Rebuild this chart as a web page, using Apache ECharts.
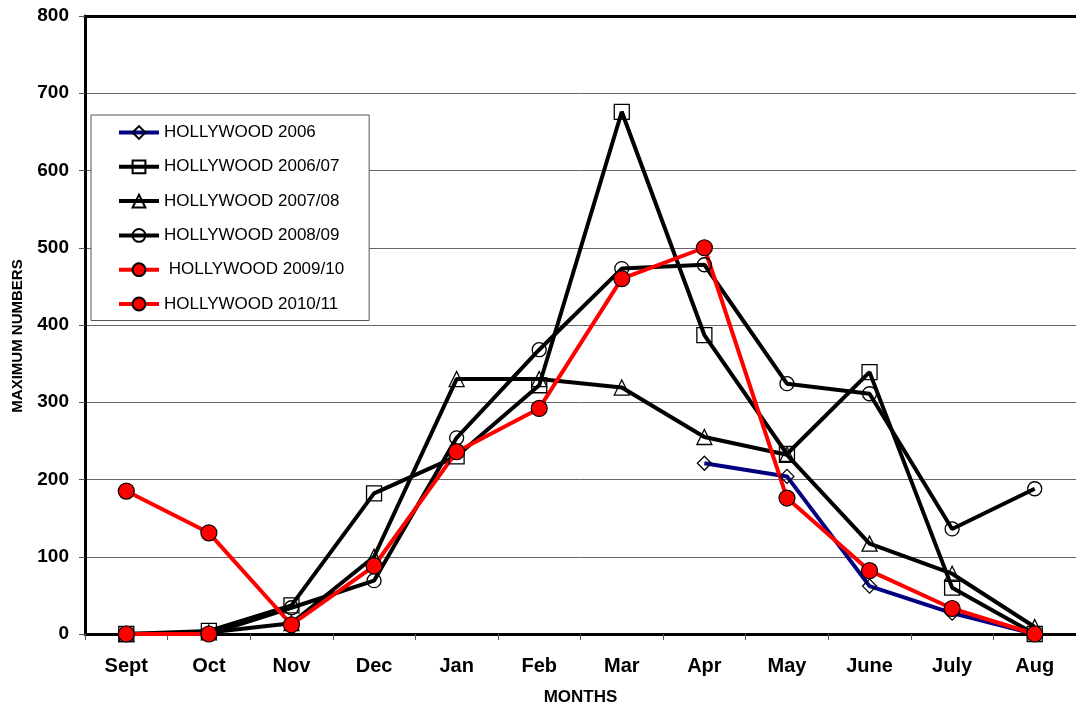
<!DOCTYPE html>
<html>
<head>
<meta charset="utf-8">
<title>Hollywood monthly maximum numbers</title>
<script src="https://cdn.jsdelivr.net/npm/echarts@6/dist/echarts.min.js"></script>
<style>
  html, body { margin: 0; padding: 0; background: #ffffff; }
  #chart { width: 1076px; height: 711px; }
</style>
</head>
<body>
<div id="chart"></div>
<script>
// Months of the season, September to August
const months = ['Sept', 'Oct', 'Nov', 'Dec', 'Jan', 'Feb', 'Mar', 'Apr', 'May', 'June', 'July', 'Aug'];

// Maximum numbers counted per month, one array per season
const hollywood2006   = [null, null, null, null, null, null, null, 221, 204, 62, 27, 0];
const hollywood200607 = [0, 4, 37, 182, 230, 322, 676, 387, 233, 339, 60, 0];
const hollywood200708 = [0, 2, 14, 100, 330, 330, 319, 255, 232, 117, 78, 9];
const hollywood200809 = [0, 0, 34, 69, 254, 368, 473, 478, 324, 311, 136, 188];
const hollywood200910 = [185, 131, 12, 88, 236, 292, 460, 500, 176, 82, 33, 0];
const hollywood201011 = [0, 0, null, null, null, null, null, null, null, null, null, null];

// Y axis range
const yMin = 0;
const yMax = 800;
const yStep = 100;

const FONT = '"Liberation Sans", Arial, Helvetica, sans-serif';

function hollowSeries(name, data, symbol, size, color) {
  return {
    name: name,
    type: 'line',
    data: data,
    symbol: symbol,
    symbolSize: size,
    showAllSymbol: true,
    connectNulls: false,
    lineStyle: { color: color, width: 4 },
    itemStyle: { color: 'rgba(255,255,255,0)', borderColor: '#000000', borderWidth: 1.3 },
    emphasis: { disabled: true },
    animation: false
  };
}

function filledSeries(name, data) {
  return {
    name: name,
    type: 'line',
    data: data,
    symbol: 'circle',
    symbolSize: 16,
    showAllSymbol: true,
    lineStyle: { color: '#ff0000', width: 4 },
    itemStyle: { color: '#ff0000', borderColor: '#000000', borderWidth: 1.2 },
    emphasis: { disabled: true },
    animation: false
  };
}

const chart = echarts.init(document.getElementById('chart'), null, { renderer: 'canvas' });

chart.setOption({
  backgroundColor: '#ffffff',
  animation: false,
  // the last category runs slightly past the right edge of the page
  grid: { left: 85, top: 16, right: -8, bottom: 73, containLabel: false },
  legend: {
    orient: 'vertical',
    left: 91,
    top: 115,
    padding: [9, 25, 8, 26],
    itemWidth: 40,
    itemHeight: 16,
    itemGap: 17.3,
    backgroundColor: '#ffffff',
    borderColor: '#555555',
    borderWidth: 1,
    borderRadius: 0,
    selectedMode: false,
    lineStyle: { width: 4 },
    textStyle: { fontFamily: FONT, fontSize: 17, color: '#000000' },
    data: ['HOLLYWOOD 2006', 'HOLLYWOOD 2006/07', 'HOLLYWOOD 2007/08', 'HOLLYWOOD 2008/09', ' HOLLYWOOD 2009/10', 'HOLLYWOOD 2010/11'],
    z: 20
  },
  xAxis: [
    {
      type: 'category',
      data: months,
      boundaryGap: true,
      name: 'MONTHS',
      nameLocation: 'middle',
      nameGap: 55,
      nameTextStyle: { fontFamily: FONT, fontSize: 17, fontWeight: 'bold', color: '#000000' },
      axisLine: { show: true, lineStyle: { color: '#000000', width: 3 } },
      axisTick: { show: true, inside: false, length: 6, alignWithLabel: false, lineStyle: { color: '#555555', width: 1 } },
      axisLabel: { fontFamily: FONT, fontSize: 20, fontWeight: 'bold', color: '#000000', margin: 22, interval: 0 },
      splitLine: { show: false }
    },
    {
      // plot-area top border
      type: 'category',
      data: months,
      position: 'top',
      axisLine: { show: true, lineStyle: { color: '#000000', width: 3 } },
      axisTick: { show: false },
      axisLabel: { show: false },
      splitLine: { show: false }
    }
  ],
  yAxis: {
    type: 'value',
    min: yMin,
    max: yMax,
    interval: yStep,
    name: 'MAXIMUM NUMBERS',
    nameLocation: 'middle',
    nameRotate: 90,
    nameGap: 60,
    nameTextStyle: { fontFamily: FONT, fontSize: 15, fontWeight: 'bold', color: '#000000', padding: [0, 22, 0, 0] },
    axisLine: { show: true, lineStyle: { color: '#000000', width: 3 } },
    axisTick: { show: true, inside: false, length: 6, lineStyle: { color: '#555555', width: 1 } },
    axisLabel: { fontFamily: FONT, fontSize: 19, fontWeight: 'bold', color: '#000000', margin: 16 },
    splitLine: { show: true, lineStyle: { color: '#666666', width: 1 } }
  },
  series: [
    hollowSeries('HOLLYWOOD 2006', hollywood2006, 'diamond', 14, '#000080'),
    hollowSeries('HOLLYWOOD 2006/07', hollywood200607, 'rect', 15, '#000000'),
    hollowSeries('HOLLYWOOD 2007/08', hollywood200708, 'triangle', 15, '#000000'),
    hollowSeries('HOLLYWOOD 2008/09', hollywood200809, 'circle', 14, '#000000'),
    filledSeries(' HOLLYWOOD 2009/10', hollywood200910),
    filledSeries('HOLLYWOOD 2010/11', hollywood201011)
  ]
});
</script>
</body>
</html>
